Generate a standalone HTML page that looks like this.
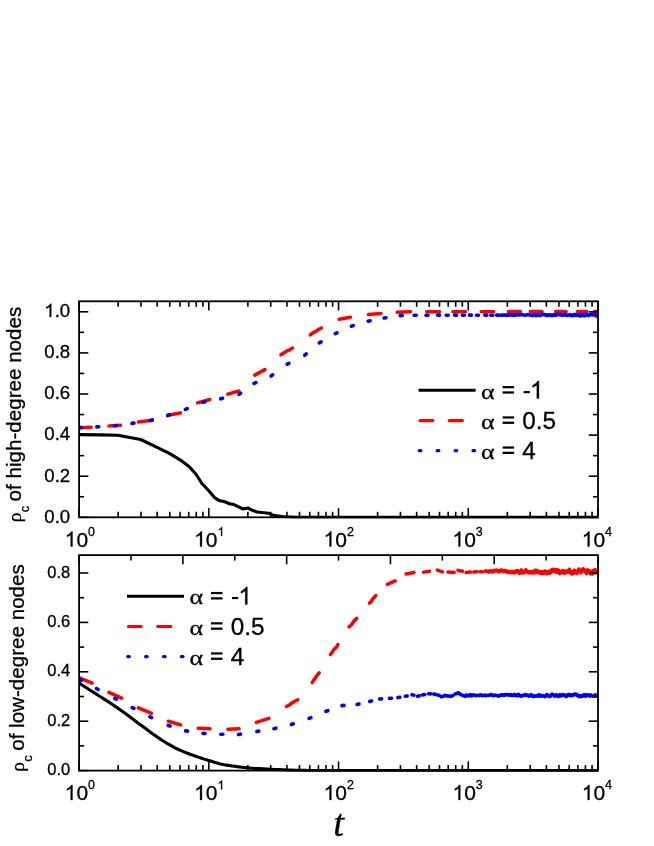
<!DOCTYPE html>
<html><head><meta charset="utf-8"><title>chart</title>
<style>html,body{margin:0;padding:0;background:#fff;}svg{display:block;will-change:transform;}text{fill:#000;stroke:#000;stroke-width:0.3px;}</style>
</head><body>
<svg width="654" height="846" viewBox="0 0 654 846">
<defs><clipPath id="c1"><rect x="79.1" y="301.3" width="518.9" height="217.19999999999993"/></clipPath><clipPath id="c2"><rect x="79.1" y="555.1" width="518.9" height="216.7"/></clipPath></defs>
<g clip-path="url(#c1)">
<polyline points="78,434.6 100,434.9 117.8,435.2 140.7,439.5 157.6,447.6 169.8,453.7 180.1,459.8 189.3,466.7 196.2,474.5 201.9,483.5 208.8,490.8 214.5,497.6 219.1,500.5 224.9,501.8 229.4,503.7 234,504.6 238.6,506.8 243.2,509 247.8,508 252.4,510.3 257,512 263.9,512.7 268.4,513.2 273,515.2 282,516.5 295,517.2 598,517.3" fill="none" stroke="#000" stroke-width="3.1" stroke-linejoin="round" />
<line x1="78.96" y1="427.67" x2="91.14" y2="427.23" stroke="#ff0000" stroke-width="3.5" stroke-linecap="round"/>
<line x1="108.96" y1="425.95" x2="120.54" y2="425.35" stroke="#ff0000" stroke-width="3.5" stroke-linecap="round"/>
<line x1="138.36" y1="421.89" x2="152.34" y2="420.31" stroke="#ff0000" stroke-width="3.5" stroke-linecap="round"/>
<line x1="167.65" y1="415.24" x2="180.45" y2="413.06" stroke="#ff0000" stroke-width="3.5" stroke-linecap="round"/>
<line x1="197.53" y1="402.85" x2="209.87" y2="399.45" stroke="#ff0000" stroke-width="3.5" stroke-linecap="round"/>
<line x1="227.83" y1="394.13" x2="238.87" y2="390.97" stroke="#ff0000" stroke-width="3.5" stroke-linecap="round"/>
<line x1="254.84" y1="375.14" x2="264.86" y2="369.66" stroke="#ff0000" stroke-width="3.5" stroke-linecap="round"/>
<polyline points="280.93,354.72 283.74,352.92 286.54,351.13 289.65,349.86 292.47,348.08" fill="none" stroke="#ff0000" stroke-width="3.5" stroke-linecap="round" stroke-linejoin="round"/>
<polyline points="310.32,334.89 312.9,332.82 315.92,331.43 318.63,329.55 321.48,327.91" fill="none" stroke="#ff0000" stroke-width="3.5" stroke-linecap="round" stroke-linejoin="round"/>
<line x1="339.15" y1="319.32" x2="350.45" y2="317.18" stroke="#ff0000" stroke-width="3.5" stroke-linecap="round"/>
<line x1="368.56" y1="314.51" x2="381.04" y2="313.39" stroke="#ff0000" stroke-width="3.5" stroke-linecap="round"/>
<line x1="397.16" y1="312.27" x2="410.54" y2="311.83" stroke="#ff0000" stroke-width="3.5" stroke-linecap="round"/>
<line x1="426.76" y1="311.8" x2="439.54" y2="311.8" stroke="#ff0000" stroke-width="3.5" stroke-linecap="round"/>
<line x1="452.86" y1="311.8" x2="465.54" y2="311.8" stroke="#ff0000" stroke-width="3.5" stroke-linecap="round"/>
<line x1="481.26" y1="311.7" x2="493.74" y2="311.7" stroke="#ff0000" stroke-width="3.5" stroke-linecap="round"/>
<line x1="508.57" y1="311.7" x2="520.13" y2="311.7" stroke="#ff0000" stroke-width="3.9" stroke-linecap="round"/>
<line x1="530.47" y1="311.7" x2="541.83" y2="311.7" stroke="#ff0000" stroke-width="3.9" stroke-linecap="round"/>
<line x1="555.87" y1="311.7" x2="565.93" y2="311.7" stroke="#ff0000" stroke-width="3.9" stroke-linecap="round"/>
<line x1="577.67" y1="311.7" x2="586.53" y2="311.7" stroke="#ff0000" stroke-width="3.9" stroke-linecap="round"/>
<line x1="594.47" y1="311.7" x2="598.93" y2="311.7" stroke="#ff0000" stroke-width="3.9" stroke-linecap="round"/>
<line x1="79.4" y1="427.65" x2="81.4" y2="427.55" stroke="#0000ff" stroke-width="3.6" stroke-linecap="round"/>
<line x1="96.8" y1="426.87" x2="98.8" y2="426.73" stroke="#0000ff" stroke-width="3.6" stroke-linecap="round"/>
<line x1="114.41" y1="425.74" x2="116.39" y2="425.46" stroke="#0000ff" stroke-width="3.6" stroke-linecap="round"/>
<line x1="132.01" y1="423.36" x2="133.99" y2="423.04" stroke="#0000ff" stroke-width="3.6" stroke-linecap="round"/>
<line x1="150.34" y1="420.48" x2="152.26" y2="419.92" stroke="#0000ff" stroke-width="3.6" stroke-linecap="round"/>
<line x1="167.76" y1="415.53" x2="169.64" y2="414.87" stroke="#0000ff" stroke-width="3.6" stroke-linecap="round"/>
<line x1="185.37" y1="409.36" x2="187.23" y2="408.64" stroke="#0000ff" stroke-width="3.6" stroke-linecap="round"/>
<line x1="202.92" y1="402.29" x2="204.88" y2="401.91" stroke="#0000ff" stroke-width="3.6" stroke-linecap="round"/>
<line x1="220.63" y1="398.86" x2="222.57" y2="398.34" stroke="#0000ff" stroke-width="3.6" stroke-linecap="round"/>
<line x1="238.98" y1="394.38" x2="240.62" y2="393.22" stroke="#0000ff" stroke-width="3.6" stroke-linecap="round"/>
<line x1="254.09" y1="383.41" x2="255.91" y2="382.59" stroke="#0000ff" stroke-width="3.6" stroke-linecap="round"/>
<line x1="271.09" y1="375.98" x2="272.71" y2="374.82" stroke="#0000ff" stroke-width="3.6" stroke-linecap="round"/>
<line x1="287.11" y1="364.27" x2="288.89" y2="363.33" stroke="#0000ff" stroke-width="3.6" stroke-linecap="round"/>
<line x1="304.73" y1="355.24" x2="306.27" y2="353.96" stroke="#0000ff" stroke-width="3.6" stroke-linecap="round"/>
<line x1="319.33" y1="342.9" x2="321.07" y2="341.9" stroke="#0000ff" stroke-width="3.6" stroke-linecap="round"/>
<line x1="335.19" y1="333.61" x2="337.01" y2="332.79" stroke="#0000ff" stroke-width="3.6" stroke-linecap="round"/>
<line x1="351.34" y1="326.18" x2="353.26" y2="325.62" stroke="#0000ff" stroke-width="3.6" stroke-linecap="round"/>
<line x1="368.12" y1="321.19" x2="370.08" y2="320.81" stroke="#0000ff" stroke-width="3.6" stroke-linecap="round"/>
<line x1="384.01" y1="318.04" x2="385.99" y2="317.76" stroke="#0000ff" stroke-width="3.6" stroke-linecap="round"/>
<line x1="400.3" y1="315.63" x2="402.3" y2="315.57" stroke="#0000ff" stroke-width="3.6" stroke-linecap="round"/>
<line x1="414.2" y1="315.2" x2="416.2" y2="315.2" stroke="#0000ff" stroke-width="3.6" stroke-linecap="round"/>
<line x1="426" y1="315.21" x2="428" y2="315.19" stroke="#0000ff" stroke-width="3.6" stroke-linecap="round"/>
<line x1="437.5" y1="315.09" x2="439.5" y2="315.11" stroke="#0000ff" stroke-width="3.6" stroke-linecap="round"/>
<line x1="446.2" y1="315.21" x2="448.2" y2="315.19" stroke="#0000ff" stroke-width="3.6" stroke-linecap="round"/>
<line x1="454.6" y1="315.09" x2="456.6" y2="315.11" stroke="#0000ff" stroke-width="3.6" stroke-linecap="round"/>
<line x1="462.4" y1="315.21" x2="464.4" y2="315.19" stroke="#0000ff" stroke-width="3.6" stroke-linecap="round"/>
<line x1="469.4" y1="315.09" x2="471.4" y2="315.11" stroke="#0000ff" stroke-width="3.6" stroke-linecap="round"/>
<line x1="476.5" y1="315.21" x2="478.5" y2="315.19" stroke="#0000ff" stroke-width="3.6" stroke-linecap="round"/>
<line x1="484.8" y1="315.08" x2="486.8" y2="315.12" stroke="#0000ff" stroke-width="3.6" stroke-linecap="round"/>
<line x1="490.8" y1="315.22" x2="492.8" y2="315.18" stroke="#0000ff" stroke-width="3.6" stroke-linecap="round"/>
<line x1="496.5" y1="315.08" x2="498.5" y2="315.12" stroke="#0000ff" stroke-width="3.6" stroke-linecap="round"/>
<line x1="500.5" y1="315.23" x2="502.5" y2="315.17" stroke="#0000ff" stroke-width="3.6" stroke-linecap="round"/>
<line x1="504" y1="315.07" x2="506" y2="315.13" stroke="#0000ff" stroke-width="3.6" stroke-linecap="round"/>
<line x1="507" y1="315.27" x2="509" y2="315.13" stroke="#0000ff" stroke-width="3.6" stroke-linecap="round"/>
<line x1="510" y1="314.92" x2="512" y2="315.08" stroke="#0000ff" stroke-width="3.6" stroke-linecap="round"/>
<line x1="512.5" y1="315.12" x2="514.5" y2="315.28" stroke="#0000ff" stroke-width="3.6" stroke-linecap="round"/>
<polyline points="514,314.73 514.25,314.69 514.5,314.76 514.75,314.78 515,315.12 515.25,315.27 515.5,315.04 515.75,315.15 516,314.71 516.25,315.01 516.5,314.86 516.75,314.97 517,314.79 517.25,314.43 517.5,314.53 517.75,314.79 518,314.47 518.25,314.84 518.5,314.73 518.75,314.73 519,314.68 519.25,315.08 519.5,314.58 519.75,314.57 520,314.58 520.25,314.84 520.5,314.31 520.75,314.55 521,314.62 521.25,314.85 521.5,314.81 521.75,314.85 522,314.45 522.25,314.57 522.5,314.59 522.75,315.03 523,315.16 523.25,314.68 523.5,314.74 523.75,314.79 524,314.85 524.25,315.12 524.5,315.3 524.75,315.16 525,315.05 525.25,315.36 525.5,315.26 525.75,315.25 526,315.35 526.25,314.98 526.5,314.7 526.75,314.7 527,314.75 527.25,314.31 527.5,314.95 527.75,314.89 528,314.98 528.25,314.94 528.5,314.65 528.75,314.71 529,314.58 529.25,315.08 529.5,314.76 529.75,314.85 530,314.98 530.25,314.97 530.5,315.17 530.75,315.04 531,315.09 531.25,315.28 531.5,315.28 531.75,315.48 532,315.16 532.25,315.72 532.5,315.42 532.75,314.96 533,314.97 533.25,315.02 533.5,315.02 533.75,314.79 534,315.31 534.25,315.37 534.5,314.92 534.75,314.91 535,314.62 535.25,314.74 535.5,315.09 535.75,315.2 536,315.8 536.25,315.36 536.5,315.25 536.75,315.88 537,315.31 537.25,314.72 537.5,314.78 537.75,314.16 538,314.49 538.25,314.93 538.5,315.01 538.75,315.1 539,314.98 539.25,315.27 539.5,315.22 539.75,315.73 540,315.43 540.25,315.49 540.5,314.93 540.75,314.68 541,315.07 541.25,315.19 541.5,315.06 541.75,314.98 542,314.95 542.25,314.84 542.5,314.35 542.75,314.59 543,314.44 543.25,314.15 543.5,314.14 543.75,314.35 544,314.32 544.25,314.7 544.5,314.94 544.75,314.51 545,315 545.25,315.11 545.5,315.14 545.75,314.65 546,314.53 546.25,314.58 546.5,314.67 546.75,314.83 547,315.38 547.25,315.77 547.5,315.8 547.75,315.45 548,315.5 548.25,315.45 548.5,314.58 548.75,314.92 549,315.02 549.25,314.86 549.5,314.88 549.75,314.73 550,314.58 550.25,315.28 550.5,314.96 550.75,315.45 551,315.62 551.25,315.08 551.5,315.11 551.75,315.65 552,315.45 552.25,314.93 552.5,314.89 552.75,314.87 553,315.52 553.25,315.34 553.5,314.61 553.75,315.21 554,315.33 554.25,315.03 554.5,314.77 554.75,315.03 555,314.67 555.25,314.61 555.5,315.59 555.75,315.25 556,315.03 556.25,315.29 556.5,314.62 556.75,314.91 557,314.75 557.25,314.1 557.5,314.13 557.75,314.17 558,314.12 558.25,314.47 558.5,314.13 558.75,314.29 559,314 559.25,314.84 559.5,314.31 559.75,314.47 560,314.65 560.25,315.01 560.5,314.52 560.75,315.12 561,314.83 561.25,315.03 561.5,315.18 561.75,314.78 562,315.27 562.25,314.97 562.5,314.72 562.75,315.47 563,314.71 563.25,314.96 563.5,315.18 563.75,314.99 564,314.72 564.25,314.89 564.5,314.89 564.75,315.09 565,314.33 565.25,314.82 565.5,314.52 565.75,314.63 566,315.27 566.25,315.08 566.5,315.22 566.75,315.47 567,315.64 567.25,315.09 567.5,315.23 567.75,315.06 568,315.02 568.25,315.19 568.5,314.92 568.75,314.98 569,314.87 569.25,315.33 569.5,315 569.75,315.16 570,315.22 570.25,314.5 570.5,314.97 570.75,315.6 571,315.67 571.25,315.03 571.5,315.1 571.75,315.48 572,315.03 572.25,315.19 572.5,314.96 572.75,315.62 573,315.73 573.25,315.85 573.5,314.92 573.75,315.43 574,315.19 574.25,314.4 574.5,315.13 574.75,315.16 575,314.3 575.25,315.25 575.5,314.72 575.75,314.96 576,315.67 576.25,315.56 576.5,314.77 576.75,315.09 577,315.17 577.25,314.94 577.5,314.75 577.75,314.88 578,315.36 578.25,314.55 578.5,315.3 578.75,315.3 579,314.93 579.25,315.43 579.5,315.86 579.75,315.73 580,315.14 580.25,316.22 580.5,315.92 580.75,316.1 581,314.98 581.25,315.17 581.5,314.82 581.75,315.59 582,314.78 582.25,314.42 582.5,314.64 582.75,315.18 583,315.12 583.25,314.6 583.5,314.73 583.75,316 584,315.82 584.25,316.15 584.5,315.39 584.75,315.18 585,315.67 585.25,314.97 585.5,314.17 585.75,315.01 586,314.51 586.25,314.76 586.5,313.93 586.75,315.05 587,314.16 587.25,315.3 587.5,314.83 587.75,314.7 588,315.06 588.25,315.68 588.5,314.97 588.75,314.93 589,315.54 589.25,315.19 589.5,314.92 589.75,314.78 590,314.37 590.25,314.31 590.5,314.24 590.75,314.13 591,314.76 591.25,314.23 591.5,314.64 591.75,314.36 592,314.72 592.25,314.36 592.5,314.68 592.75,314.27 593,315.07 593.25,314.62 593.5,313.93 593.75,314.17 594,314.74 594.25,313.69 594.5,314.87 594.75,314.61 595,314.98 595.25,315.69 595.5,315.22 595.75,315.4 596,315.67 596.25,316.12 596.5,315.28 596.75,316 597,315.86 597.25,315.77 597.5,315.41 597.75,315.26 598,314.76 598.25,314.78 598.5,314.63 598.75,315.54 599,314.88 599.25,314.84 599.5,314.86 599.75,316.07 600,316.24" fill="none" stroke="#0000ff" stroke-width="3.2" stroke-linejoin="round" />
</g>
<g clip-path="url(#c2)">
<polyline points="78,682.4 80.18,683.79 83.19,685.71 86.76,687.99 90.61,690.45 94.45,692.91 98,695.2 101.28,697.3 104.5,699.34 107.72,701.39 110.98,703.5 114.32,705.72 117.8,708.1 121.51,710.74 125.43,713.61 129.43,716.59 133.4,719.56 137.19,722.4 140.7,725 143.92,727.37 146.95,729.61 149.82,731.73 152.54,733.72 155.12,735.58 157.6,737.3 159.92,738.86 162.07,740.26 164.09,741.52 166.02,742.7 167.91,743.81 169.8,744.9 171.62,745.93 173.31,746.87 174.96,747.76 176.65,748.61 178.47,749.48 180.5,750.4 182.81,751.38 185.35,752.4 188.02,753.44 190.71,754.45 193.34,755.42 195.8,756.3 198.07,757.09 200.24,757.81 202.33,758.48 204.4,759.12 206.47,759.75 208.6,760.4 210.75,761.07 212.89,761.74 215.04,762.41 217.23,763.05 219.47,763.65 221.8,764.2 224.23,764.69 226.74,765.13 229.32,765.54 231.92,765.91 234.53,766.26 237.1,766.6 239.57,766.92 241.93,767.2 244.29,767.47 246.76,767.72 249.43,767.96 252.4,768.2 255.72,768.44 259.3,768.67 263.09,768.9 267.02,769.11 271.01,769.32 275,769.5 278.97,769.67 282.97,769.82 287.04,769.96 291.21,770.09 295.52,770.2 300,770.3 305.06,770.38 310.74,770.45 316.56,770.5 322.04,770.54 326.68,770.57 330,770.6 598,770.6" fill="none" stroke="#000" stroke-width="3.1" stroke-linejoin="round" />
<line x1="78.89" y1="677.66" x2="92.11" y2="683.04" stroke="#ff0000" stroke-width="3.5" stroke-linecap="round"/>
<line x1="108.88" y1="692.4" x2="121.72" y2="698.2" stroke="#ff0000" stroke-width="3.5" stroke-linecap="round"/>
<line x1="138.38" y1="707.78" x2="151.52" y2="713.42" stroke="#ff0000" stroke-width="3.5" stroke-linecap="round"/>
<line x1="168.42" y1="721.27" x2="180.68" y2="724.93" stroke="#ff0000" stroke-width="3.5" stroke-linecap="round"/>
<line x1="198.26" y1="728.24" x2="210.04" y2="728.76" stroke="#ff0000" stroke-width="3.5" stroke-linecap="round"/>
<line x1="227.96" y1="729.36" x2="239.14" y2="728.84" stroke="#ff0000" stroke-width="3.5" stroke-linecap="round"/>
<line x1="256.41" y1="722.4" x2="268.89" y2="718.3" stroke="#ff0000" stroke-width="3.5" stroke-linecap="round"/>
<polyline points="286.43,706.51 289.38,704.98 292.04,702.96 294.88,701.25 297.87,699.79" fill="none" stroke="#ff0000" stroke-width="3.5" stroke-linecap="round" stroke-linejoin="round"/>
<polyline points="312.17,682.62 313.77,680.06 315.67,677.73 317.19,675.11 319.23,672.88" fill="none" stroke="#ff0000" stroke-width="3.5" stroke-linecap="round" stroke-linejoin="round"/>
<polyline points="330.47,654.53 332.29,651.98 334.01,649.36 336.43,647.26 337.93,644.47" fill="none" stroke="#ff0000" stroke-width="3.5" stroke-linecap="round" stroke-linejoin="round"/>
<polyline points="348.95,626.79 351.25,625.02 352.88,622.63 354.61,620.33 356.75,618.41" fill="none" stroke="#ff0000" stroke-width="3.5" stroke-linecap="round" stroke-linejoin="round"/>
<polyline points="369.42,603.16 371.37,601.55 372.45,599.23 374.08,597.35 375.78,595.54" fill="none" stroke="#ff0000" stroke-width="3.5" stroke-linecap="round" stroke-linejoin="round"/>
<line x1="387.28" y1="584.42" x2="395.22" y2="580.98" stroke="#ff0000" stroke-width="3.5" stroke-linecap="round"/>
<line x1="406.05" y1="573.93" x2="413.95" y2="572.47" stroke="#ff0000" stroke-width="3.5" stroke-linecap="round"/>
<line x1="423.55" y1="572.14" x2="429.55" y2="571.16" stroke="#ff0000" stroke-width="3.5" stroke-linecap="round"/>
<line x1="437.4" y1="570.13" x2="442.4" y2="571.97" stroke="#ff0000" stroke-width="3.5" stroke-linecap="round"/>
<line x1="447.96" y1="572.06" x2="454.24" y2="572.44" stroke="#ff0000" stroke-width="3.5" stroke-linecap="round"/>
<line x1="457.95" y1="570.37" x2="462.55" y2="571.23" stroke="#ff0000" stroke-width="3.5" stroke-linecap="round"/>
<line x1="466.26" y1="572.51" x2="470.74" y2="572.09" stroke="#ff0000" stroke-width="3.5" stroke-linecap="round"/>
<line x1="473.86" y1="572.09" x2="477.24" y2="571.71" stroke="#ff0000" stroke-width="3.5" stroke-linecap="round"/>
<line x1="480.16" y1="571.78" x2="482.74" y2="571.72" stroke="#ff0000" stroke-width="3.5" stroke-linecap="round"/>
<polyline points="484.5,570.1 484.75,570.23 485,570.48 485.25,571.24 485.5,570.88 485.75,571.35 486,570.75 486.25,570.82 486.5,571.1 486.75,571.64 487,571.71 487.25,571.73 487.5,571.28 487.75,571.57 488,571.51 488.25,571.52 488.5,571.09 488.75,572.1 489,571.21 489.25,572.23 489.5,572.15 489.75,570.85 490,571.29 490.25,571.62 490.5,571.69 490.75,570.92 491,570.67 491.25,570.66 491.5,571.77 491.75,570.93 492,571.57 492.25,571.08 492.5,571.64 492.75,572.16 493,570.85 493.25,571.57 493.5,570.88 493.75,571.2 494,570.82 494.25,570.16 494.5,571.17 494.75,570.7 495,570.18 495.25,570.26 495.5,571.05 495.75,571.01 496,570.76 496.25,570.45 496.5,570.66 496.75,570.53 497,571.22 497.25,569.96 497.5,571.08 497.75,571.32 498,570.4 498.25,571.76 498.5,571.58 498.75,571.96 499,571.05 499.25,571.08 499.5,570.95 499.75,571.69 500,570.88 500.25,570.4 500.5,570.44 500.75,570.2 501,569.84 501.25,569.91 501.5,571.04 501.75,570.17 502,571.18 502.25,570.12 502.5,570.22 502.75,570.74 503,570.38 503.25,570.81 503.5,571.85 503.75,571.76 504,571.63 504.25,571.31 504.5,571.73 504.75,571.73 505,571.06 505.25,571.33 505.5,570.26 505.75,571.51 506,571.22 506.25,571.92 506.5,571.91 506.75,571.43 507,571.05 507.25,572.51 507.5,571.13 507.75,571.68 508,571.44 508.25,571.33 508.5,572.08 508.75,572.52 509,571.38 509.25,572.18 509.5,571.7 509.75,572.25 510,572.02 510.25,571.63 510.5,571.59 510.75,571.62 511,572.8 511.25,572.03 511.5,571.5 511.75,572.71 512,572.89 512.25,571.94 512.5,571.42 512.75,571.55 513,571.39 513.25,571.86 513.5,571.42 513.75,571.75 514,571.87 514.25,572.54 514.5,573.21 514.75,573.01 515,572.39 515.25,572.25 515.5,572.22 515.75,571.65 516,571.31 516.25,570.58 516.5,570.9 516.75,572.19 517,570.57 517.25,571.25 517.5,571.45 517.75,571.86 518,570.61 518.25,570.75 518.5,570.93 518.75,571.57 519,572.06 519.25,573.42 519.5,573.47 519.75,573.59 520,571.74 520.25,571.36 520.5,572.19 520.75,572.06 521,570.82 521.25,570.85 521.5,569.74 521.75,570.75 522,572.14 522.25,572.3 522.5,572.67 522.75,573.11 523,571.69 523.25,571.38 523.5,571.43 523.75,572.13 524,572.41 524.25,572.9 524.5,572.44 524.75,572.18 525,572.16 525.25,571.16 525.5,570.98 525.75,569.6 526,570.96 526.25,569.85 526.5,571.57 526.75,571.44 527,571.22 527.25,571.32 527.5,571.91 527.75,572.82 528,572.96 528.25,571.75 528.5,571.69 528.75,572.7 529,572.86 529.25,572.45 529.5,572.07 529.75,572.77 530,571.34 530.25,571.8 530.5,571.99 530.75,572.98 531,572.28 531.25,572.84 531.5,572 531.75,571.54 532,571.64 532.25,573.27 532.5,572.72 532.75,571.85 533,571.25 533.25,572.37 533.5,572.82 533.75,572.29 534,571.95 534.25,572.83 534.5,573.16 534.75,571.18 535,570.29 535.25,570.56 535.5,570.46 535.75,570.97 536,569.96 536.25,571.54 536.5,571.66 536.75,571.37 537,570.88 537.25,572.76 537.5,571.23 537.75,572.4 538,571.02 538.25,570.98 538.5,572.23 538.75,571.13 539,572.69 539.25,571.72 539.5,571.18 539.75,571.49 540,572.17 540.25,572.93 540.5,573.67 540.75,571.75 541,572.33 541.25,571.87 541.5,573.69 541.75,571.66 542,571.44 542.25,571.46 542.5,572.27 542.75,573.52 543,573.5 543.25,573.15 543.5,573.81 543.75,573.65 544,572.11 544.25,571.62 544.5,573.31 544.75,572.67 545,570.76 545.25,572.27 545.5,571.6 545.75,571.73 546,571.83 546.25,571.64 546.5,571.42 546.75,572.24 547,572.44 547.25,573.9 547.5,571.66 547.75,573.65 548,571.58 548.25,571.85 548.5,573 548.75,573 549,572.01 549.25,571.03 549.5,572.13 549.75,571.88 550,573.3 550.25,571.38 550.5,571.63 550.75,572.72 551,570.11 551.25,570.79 551.5,571.62 551.75,571.44 552,569.47 552.25,569.33 552.5,569.26 552.75,571.38 553,569.51 553.25,570.75 553.5,571.17 553.75,569.72 554,569.61 554.25,571.52 554.5,570.67 554.75,569.76 555,571 555.25,570 555.5,570.03 555.75,569.46 556,571.67 556.25,572.23 556.5,571.51 556.75,572.3 557,569.64 557.25,570.03 557.5,570.5 557.75,571.66 558,571.56 558.25,570.04 558.5,569.98 558.75,570.97 559,571.71 559.25,573.44 559.5,571.73 559.75,573.56 560,573.3 560.25,573.38 560.5,573.03 560.75,572.35 561,571.4 561.25,571.29 561.5,571.42 561.75,572.64 562,570.69 562.25,571.08 562.5,572.72 562.75,571.3 563,570.78 563.25,570.69 563.5,572.18 563.75,571.53 564,573.42 564.25,573.14 564.5,573.45 564.75,571.36 565,570.87 565.25,570.94 565.5,572.16 565.75,572.81 566,572.06 566.25,571.43 566.5,571.88 566.75,572.34 567,572.35 567.25,572.42 567.5,572.62 567.75,572.05 568,570.28 568.25,572.12 568.5,570.1 568.75,570.53 569,569.64 569.25,570.58 569.5,569.07 569.75,569.63 570,570.22 570.25,570.59 570.5,573.37 570.75,572.82 571,572.12 571.25,572.31 571.5,574.1 571.75,572.58 572,571.7 572.25,573.44 572.5,572.95 572.75,573.94 573,571.06 573.25,572.01 573.5,572.87 573.75,572.77 574,572.91 574.25,570.19 574.5,570.99 574.75,570.47 575,570.71 575.25,573.18 575.5,571.98 575.75,573.08 576,571.37 576.25,573 576.5,571.79 576.75,571.3 577,573.02 577.25,573.59 577.5,570.84 577.75,572.07 578,571.68 578.25,569.89 578.5,569.93 578.75,568.91 579,569.08 579.25,569.52 579.5,571.1 579.75,571.84 580,570.94 580.25,570.73 580.5,571.92 580.75,572.94 581,571.04 581.25,571.05 581.5,570.28 581.75,571.86 582,570.85 582.25,569.23 582.5,569.26 582.75,570.09 583,570.44 583.25,570.59 583.5,568.68 583.75,568.89 584,570.71 584.25,569.89 584.5,569.64 584.75,569.88 585,572.16 585.25,570.08 585.5,571.01 585.75,570.57 586,571.15 586.25,573.06 586.5,573.87 586.75,571.97 587,571.43 587.25,573 587.5,570.84 587.75,569.7 588,572.3 588.25,570.34 588.5,571.56 588.75,570.28 589,572.25 589.25,571.26 589.5,570.72 589.75,570.61 590,572.68 590.25,573.04 590.5,574.09 590.75,571.44 591,573.5 591.25,572.83 591.5,573.43 591.75,572.22 592,572.53 592.25,573.02 592.5,574.01 592.75,570.72 593,571.72 593.25,572.65 593.5,573.2 593.75,570.43 594,570.08 594.25,572.86 594.5,572.89 594.75,571.09 595,569.56 595.25,572.7 595.5,570.86 595.75,572.78 596,571.86 596.25,572.65 596.5,570.3 596.75,572.59 597,570.71 597.25,571.54 597.5,573.32 597.75,573.42 598,571.18 598.25,571.33 598.5,572.03 598.75,572.52 599,572.12 599.25,571.24 599.5,571.74 599.75,573.5 600,574.08" fill="none" stroke="#ff0000" stroke-width="3.2" stroke-linejoin="round" />
<line x1="79.62" y1="679.42" x2="81.38" y2="680.38" stroke="#0000ff" stroke-width="3.6" stroke-linecap="round"/>
<line x1="96.42" y1="688.53" x2="98.18" y2="689.47" stroke="#0000ff" stroke-width="3.6" stroke-linecap="round"/>
<line x1="114.82" y1="698.33" x2="116.58" y2="699.27" stroke="#0000ff" stroke-width="3.6" stroke-linecap="round"/>
<line x1="132.21" y1="707.54" x2="133.99" y2="708.46" stroke="#0000ff" stroke-width="3.6" stroke-linecap="round"/>
<line x1="149.89" y1="716.78" x2="151.71" y2="717.62" stroke="#0000ff" stroke-width="3.6" stroke-linecap="round"/>
<line x1="168.24" y1="725.41" x2="170.16" y2="725.99" stroke="#0000ff" stroke-width="3.6" stroke-linecap="round"/>
<line x1="185.61" y1="730.86" x2="187.59" y2="731.14" stroke="#0000ff" stroke-width="3.6" stroke-linecap="round"/>
<line x1="203" y1="733.35" x2="205" y2="733.45" stroke="#0000ff" stroke-width="3.6" stroke-linecap="round"/>
<line x1="220.8" y1="734.3" x2="222.8" y2="734.3" stroke="#0000ff" stroke-width="3.6" stroke-linecap="round"/>
<line x1="238.51" y1="734.46" x2="240.49" y2="734.14" stroke="#0000ff" stroke-width="3.6" stroke-linecap="round"/>
<line x1="256.81" y1="731.47" x2="258.79" y2="731.13" stroke="#0000ff" stroke-width="3.6" stroke-linecap="round"/>
<line x1="273.93" y1="728.64" x2="275.87" y2="728.16" stroke="#0000ff" stroke-width="3.6" stroke-linecap="round"/>
<line x1="291.35" y1="724.43" x2="293.25" y2="723.77" stroke="#0000ff" stroke-width="3.6" stroke-linecap="round"/>
<line x1="309.08" y1="718.38" x2="310.92" y2="717.62" stroke="#0000ff" stroke-width="3.6" stroke-linecap="round"/>
<line x1="325.95" y1="711.32" x2="327.85" y2="710.68" stroke="#0000ff" stroke-width="3.6" stroke-linecap="round"/>
<line x1="342" y1="705.59" x2="344" y2="705.41" stroke="#0000ff" stroke-width="3.6" stroke-linecap="round"/>
<line x1="357.03" y1="704.43" x2="358.97" y2="703.97" stroke="#0000ff" stroke-width="3.6" stroke-linecap="round"/>
<line x1="369.63" y1="701.42" x2="371.57" y2="700.98" stroke="#0000ff" stroke-width="3.6" stroke-linecap="round"/>
<line x1="379.6" y1="698.96" x2="381.6" y2="698.84" stroke="#0000ff" stroke-width="3.6" stroke-linecap="round"/>
<line x1="389.51" y1="698.41" x2="391.49" y2="698.19" stroke="#0000ff" stroke-width="3.6" stroke-linecap="round"/>
<line x1="397.92" y1="697.58" x2="399.88" y2="697.22" stroke="#0000ff" stroke-width="3.6" stroke-linecap="round"/>
<line x1="405.21" y1="696.26" x2="407.19" y2="695.94" stroke="#0000ff" stroke-width="3.6" stroke-linecap="round"/>
<line x1="412.02" y1="694.8" x2="413.98" y2="695.2" stroke="#0000ff" stroke-width="3.6" stroke-linecap="round"/>
<line x1="417.53" y1="696.36" x2="419.47" y2="695.84" stroke="#0000ff" stroke-width="3.6" stroke-linecap="round"/>
<line x1="422.71" y1="694.85" x2="424.69" y2="694.55" stroke="#0000ff" stroke-width="3.6" stroke-linecap="round"/>
<line x1="428.5" y1="693.7" x2="430.5" y2="693.9" stroke="#0000ff" stroke-width="3.6" stroke-linecap="round"/>
<line x1="433.73" y1="694.06" x2="435.67" y2="694.54" stroke="#0000ff" stroke-width="3.6" stroke-linecap="round"/>
<line x1="437.35" y1="694.9" x2="439.25" y2="695.5" stroke="#0000ff" stroke-width="3.6" stroke-linecap="round"/>
<line x1="441.43" y1="696.74" x2="443.37" y2="696.26" stroke="#0000ff" stroke-width="3.6" stroke-linecap="round"/>
<line x1="445.02" y1="695.42" x2="446.98" y2="695.78" stroke="#0000ff" stroke-width="3.6" stroke-linecap="round"/>
<line x1="447.8" y1="696.13" x2="449.8" y2="696.07" stroke="#0000ff" stroke-width="3.6" stroke-linecap="round"/>
<line x1="451.12" y1="696.48" x2="452.88" y2="695.52" stroke="#0000ff" stroke-width="3.6" stroke-linecap="round"/>
<line x1="455.02" y1="694" x2="456.98" y2="693.6" stroke="#0000ff" stroke-width="3.6" stroke-linecap="round"/>
<line x1="458.17" y1="692.65" x2="459.83" y2="693.75" stroke="#0000ff" stroke-width="3.6" stroke-linecap="round"/>
<line x1="460.76" y1="694.65" x2="462.64" y2="695.35" stroke="#0000ff" stroke-width="3.6" stroke-linecap="round"/>
<line x1="463.46" y1="695.65" x2="465.34" y2="696.35" stroke="#0000ff" stroke-width="3.6" stroke-linecap="round"/>
<polyline points="465.5,694.6 465.75,694.9 466,694.72 466.25,695.34 466.5,695.28 466.75,695.31 467,695.65 467.25,695.47 467.5,695.35 467.75,695.76 468,695.41 468.25,695.95 468.5,695.65 468.75,695.9 469,696.01 469.25,695.55 469.5,695.34 469.75,694.85 470,694.44 470.25,694.36 470.5,694.48 470.75,694.97 471,695.13 471.25,695.49 471.5,696 471.75,695.68 472,695.76 472.25,695.91 472.5,695.27 472.75,694.98 473,694.95 473.25,694.59 473.5,694.68 473.75,694.64 474,695.01 474.25,695.19 474.5,695.12 474.75,695.55 475,695.54 475.25,695.32 475.5,695.85 475.75,695.36 476,695.28 476.25,695.22 476.5,695.58 476.75,695.74 477,695.69 477.25,695.45 477.5,695.38 477.75,695.24 478,695.7 478.25,695.65 478.5,695.48 478.75,695.61 479,695.35 479.25,695.58 479.5,695.33 479.75,694.91 480,695.37 480.25,694.78 480.5,695.16 480.75,695.11 481,695.03 481.25,694.94 481.5,695.47 481.75,694.93 482,695.37 482.25,695.71 482.5,695.19 482.75,695.29 483,695.61 483.25,695.54 483.5,695.6 483.75,695.67 484,695.14 484.25,695.18 484.5,695.14 484.75,694.94 485,695.6 485.25,695.59 485.5,695.63 485.75,695.19 486,695.89 486.25,695.85 486.5,695.63 486.75,695.78 487,695.49 487.25,695.23 487.5,695.06 487.75,695.11 488,694.95 488.25,695.18 488.5,695.5 488.75,695.45 489,695.57 489.25,695.46 489.5,695.11 489.75,695.29 490,695.08 490.25,695.2 490.5,694.83 490.75,694.48 491,694.7 491.25,694.98 491.5,694.52 491.75,695.25 492,694.8 492.25,695.22 492.5,695.35 492.75,695.8 493,695.94 493.25,695.74 493.5,695.35 493.75,695.75 494,695.26 494.25,695.17 494.5,695.7 494.75,695.4 495,695.36 495.25,695.24 495.5,695.4 495.75,694.93 496,695.23 496.25,695.22 496.5,695.53 496.75,695.39 497,695.83 497.25,695.86 497.5,695.7 497.75,695.62 498,695.97 498.25,695.52 498.5,696.23 498.75,695.58 499,695.49 499.25,695.54 499.5,696.17 499.75,695.55 500,695.25 500.25,695.03 500.5,694.96 500.75,695.49 501,695.4 501.25,695.36 501.5,695.29 501.75,694.59 502,694.96 502.25,694.72 502.5,695.14 502.75,695.21 503,695.39 503.25,694.78 503.5,695.6 503.75,695.71 504,695.74 504.25,694.92 504.5,694.88 504.75,694.65 505,694.43 505.25,695.06 505.5,694.98 505.75,694.82 506,695 506.25,694.84 506.5,694.53 506.75,694.37 507,694.37 507.25,694.98 507.5,694.55 507.75,694.76 508,694.99 508.25,694.73 508.5,695.03 508.75,695.07 509,695.42 509.25,694.99 509.5,694.8 509.75,695.26 510,694.72 510.25,695 510.5,694.8 510.75,694.34 511,694.84 511.25,695.01 511.5,695.45 511.75,695.13 512,695.49 512.25,695.35 512.5,695.06 512.75,695.71 513,695 513.25,695.72 513.5,695.1 513.75,694.88 514,694.93 514.25,695.28 514.5,695.3 514.75,694.19 515,694.56 515.25,694.58 515.5,695.02 515.75,694.65 516,695.2 516.25,695.29 516.5,695.93 516.75,695.41 517,695.99 517.25,695.16 517.5,694.86 517.75,695.11 518,694.72 518.25,694.25 518.5,694.82 518.75,694.44 519,695.41 519.25,695.59 519.5,695.93 519.75,695.93 520,695.69 520.25,695.74 520.5,695.75 520.75,696.27 521,695.47 521.25,696.3 521.5,695.43 521.75,695.58 522,695.56 522.25,696.1 522.5,695.58 522.75,695.36 523,695.82 523.25,695.12 523.5,695.25 523.75,695.15 524,695.18 524.25,695 524.5,694.76 524.75,694.41 525,694.46 525.25,694.43 525.5,695.35 525.75,695.35 526,695.58 526.25,695.06 526.5,695.33 526.75,695.65 527,695.4 527.25,694.86 527.5,695.17 527.75,695.59 528,694.9 528.25,694.97 528.5,695.3 528.75,695.98 529,696.37 529.25,695.81 529.5,695.88 529.75,695.88 530,695.71 530.25,695.58 530.5,694.83 530.75,694.71 531,694.39 531.25,695.26 531.5,695.17 531.75,694.77 532,696.03 532.25,695.38 532.5,695.89 532.75,696.62 533,696.43 533.25,696.41 533.5,696.14 533.75,695.94 534,696.48 534.25,695.91 534.5,696 534.75,696.13 535,695.62 535.25,695.91 535.5,696.25 535.75,696.08 536,695.85 536.25,696.01 536.5,695.85 536.75,695.53 537,696.09 537.25,695.89 537.5,696.28 537.75,696.39 538,695.65 538.25,695.55 538.5,695.47 538.75,694.87 539,694.51 539.25,695.1 539.5,695.49 539.75,695.68 540,695.94 540.25,696.45 540.5,696.48 540.75,696.5 541,696.19 541.25,695.86 541.5,696.01 541.75,695.17 542,695.38 542.25,695.72 542.5,695.67 542.75,695.71 543,695.46 543.25,695.87 543.5,696.1 543.75,696.41 544,696.18 544.25,696.49 544.5,696.78 544.75,695.87 545,696.42 545.25,696.55 545.5,696.08 545.75,696.11 546,696.45 546.25,694.99 546.5,695.26 546.75,694.51 547,695.1 547.25,695.31 547.5,694.96 547.75,694.7 548,695.56 548.25,695.78 548.5,696.18 548.75,695.99 549,696.17 549.25,696.45 549.5,696.14 549.75,696.07 550,696.78 550.25,695.89 550.5,696.41 550.75,695.79 551,695.88 551.25,694.69 551.5,695.41 551.75,694.4 552,693.99 552.25,694.32 552.5,694.59 552.75,694.23 553,694.87 553.25,694.96 553.5,695.35 553.75,694.97 554,694.99 554.25,695.12 554.5,695.96 554.75,696.37 555,695.94 555.25,695.53 555.5,696.11 555.75,695.34 556,694.83 556.25,694.47 556.5,695.12 556.75,695.12 557,695.02 557.25,695.08 557.5,695.54 557.75,695.44 558,696.66 558.25,696.01 558.5,696.33 558.75,696.37 559,696.1 559.25,695.36 559.5,694.87 559.75,695.04 560,694.47 560.25,695.52 560.5,695.1 560.75,696 561,695.48 561.25,695.81 561.5,695.72 561.75,695.85 562,695.31 562.25,694.76 562.5,695.4 562.75,694.55 563,694.35 563.25,694.43 563.5,694.76 563.75,694.84 564,695.29 564.25,695.48 564.5,695.19 564.75,695.98 565,695.96 565.25,695.04 565.5,696.28 565.75,696.58 566,696.57 566.25,695.77 566.5,696.65 566.75,696.16 567,695.01 567.25,694.66 567.5,695.65 567.75,695.05 568,694.46 568.25,694.26 568.5,694.34 568.75,694.49 569,695.26 569.25,694.69 569.5,694.43 569.75,695.5 570,695.43 570.25,694.68 570.5,695.8 570.75,695.5 571,695.8 571.25,695.64 571.5,695.9 571.75,695.68 572,695.66 572.25,694.67 572.5,695.31 572.75,695.06 573,695.31 573.25,694.78 573.5,695.27 573.75,694.67 574,694.15 574.25,694.06 574.5,693.93 574.75,694.48 575,693.93 575.25,694.58 575.5,694.18 575.75,694.71 576,694.73 576.25,694.78 576.5,695.24 576.75,694 577,695.19 577.25,694.64 577.5,694.78 577.75,695.03 578,695.56 578.25,695.25 578.5,695.69 578.75,696.79 579,695.69 579.25,696.51 579.5,696.44 579.75,695.44 580,696.16 580.25,696.15 580.5,696.44 580.75,695.53 581,696.53 581.25,695.92 581.5,695.99 581.75,696.7 582,695.51 582.25,696.56 582.5,696.36 582.75,695.7 583,696.15 583.25,695.05 583.5,694.9 583.75,694.77 584,695.11 584.25,694.42 584.5,695.01 584.75,695.3 585,695.78 585.25,696.41 585.5,695.7 585.75,696.41 586,695.53 586.25,695.37 586.5,694.68 586.75,694.76 587,695.31 587.25,694.83 587.5,695.15 587.75,694.64 588,694.82 588.25,694.99 588.5,695.56 588.75,695.67 589,695.92 589.25,694.82 589.5,695.92 589.75,696.22 590,695.74 590.25,695 590.5,695.36 590.75,694.82 591,694.97 591.25,695.96 591.5,695.36 591.75,695.36 592,695.56 592.25,695.87 592.5,695.62 592.75,695.89 593,696.15 593.25,696.44 593.5,696.36 593.75,696.45 594,695.6 594.25,696.16 594.5,695.67 594.75,696.02 595,694.9 595.25,695.02 595.5,694.8 595.75,695.97 596,696.21 596.25,695.81 596.5,695.37 596.75,696.09 597,696.09 597.25,695.86 597.5,695.52 597.75,695.74 598,696.05 598.25,695.95 598.5,696.06 598.75,696.14 599,696.24 599.25,694.43 599.5,694.9 599.75,693.83 600,693.94" fill="none" stroke="#0000ff" stroke-width="3.2" stroke-linejoin="round" />
</g>
<rect x="79.1" y="301.3" width="518.9" height="216" fill="none" stroke="#000" stroke-width="1.8"/>
<rect x="79.1" y="555.1" width="518.9" height="215.5" fill="none" stroke="#000" stroke-width="1.8"/>
<line x1="79.1" y1="517.3" x2="79.1" y2="508.1" stroke="#000" stroke-width="1.6" stroke-linecap="butt"/>
<line x1="118.15" y1="517.3" x2="118.15" y2="511.8" stroke="#000" stroke-width="1.6" stroke-linecap="butt"/>
<line x1="140.99" y1="517.3" x2="140.99" y2="511.8" stroke="#000" stroke-width="1.6" stroke-linecap="butt"/>
<line x1="157.2" y1="517.3" x2="157.2" y2="511.8" stroke="#000" stroke-width="1.6" stroke-linecap="butt"/>
<line x1="169.77" y1="517.3" x2="169.77" y2="511.8" stroke="#000" stroke-width="1.6" stroke-linecap="butt"/>
<line x1="180.05" y1="517.3" x2="180.05" y2="511.8" stroke="#000" stroke-width="1.6" stroke-linecap="butt"/>
<line x1="188.73" y1="517.3" x2="188.73" y2="511.8" stroke="#000" stroke-width="1.6" stroke-linecap="butt"/>
<line x1="196.25" y1="517.3" x2="196.25" y2="511.8" stroke="#000" stroke-width="1.6" stroke-linecap="butt"/>
<line x1="202.89" y1="517.3" x2="202.89" y2="511.8" stroke="#000" stroke-width="1.6" stroke-linecap="butt"/>
<line x1="208.82" y1="517.3" x2="208.82" y2="508.1" stroke="#000" stroke-width="1.6" stroke-linecap="butt"/>
<line x1="247.88" y1="517.3" x2="247.88" y2="511.8" stroke="#000" stroke-width="1.6" stroke-linecap="butt"/>
<line x1="270.72" y1="517.3" x2="270.72" y2="511.8" stroke="#000" stroke-width="1.6" stroke-linecap="butt"/>
<line x1="286.93" y1="517.3" x2="286.93" y2="511.8" stroke="#000" stroke-width="1.6" stroke-linecap="butt"/>
<line x1="299.5" y1="517.3" x2="299.5" y2="511.8" stroke="#000" stroke-width="1.6" stroke-linecap="butt"/>
<line x1="309.77" y1="517.3" x2="309.77" y2="511.8" stroke="#000" stroke-width="1.6" stroke-linecap="butt"/>
<line x1="318.46" y1="517.3" x2="318.46" y2="511.8" stroke="#000" stroke-width="1.6" stroke-linecap="butt"/>
<line x1="325.98" y1="517.3" x2="325.98" y2="511.8" stroke="#000" stroke-width="1.6" stroke-linecap="butt"/>
<line x1="332.61" y1="517.3" x2="332.61" y2="511.8" stroke="#000" stroke-width="1.6" stroke-linecap="butt"/>
<line x1="338.55" y1="517.3" x2="338.55" y2="508.1" stroke="#000" stroke-width="1.6" stroke-linecap="butt"/>
<line x1="377.6" y1="517.3" x2="377.6" y2="511.8" stroke="#000" stroke-width="1.6" stroke-linecap="butt"/>
<line x1="400.44" y1="517.3" x2="400.44" y2="511.8" stroke="#000" stroke-width="1.6" stroke-linecap="butt"/>
<line x1="416.65" y1="517.3" x2="416.65" y2="511.8" stroke="#000" stroke-width="1.6" stroke-linecap="butt"/>
<line x1="429.22" y1="517.3" x2="429.22" y2="511.8" stroke="#000" stroke-width="1.6" stroke-linecap="butt"/>
<line x1="439.5" y1="517.3" x2="439.5" y2="511.8" stroke="#000" stroke-width="1.6" stroke-linecap="butt"/>
<line x1="448.18" y1="517.3" x2="448.18" y2="511.8" stroke="#000" stroke-width="1.6" stroke-linecap="butt"/>
<line x1="455.7" y1="517.3" x2="455.7" y2="511.8" stroke="#000" stroke-width="1.6" stroke-linecap="butt"/>
<line x1="462.34" y1="517.3" x2="462.34" y2="511.8" stroke="#000" stroke-width="1.6" stroke-linecap="butt"/>
<line x1="468.27" y1="517.3" x2="468.27" y2="508.1" stroke="#000" stroke-width="1.6" stroke-linecap="butt"/>
<line x1="507.33" y1="517.3" x2="507.33" y2="511.8" stroke="#000" stroke-width="1.6" stroke-linecap="butt"/>
<line x1="530.17" y1="517.3" x2="530.17" y2="511.8" stroke="#000" stroke-width="1.6" stroke-linecap="butt"/>
<line x1="546.38" y1="517.3" x2="546.38" y2="511.8" stroke="#000" stroke-width="1.6" stroke-linecap="butt"/>
<line x1="558.95" y1="517.3" x2="558.95" y2="511.8" stroke="#000" stroke-width="1.6" stroke-linecap="butt"/>
<line x1="569.22" y1="517.3" x2="569.22" y2="511.8" stroke="#000" stroke-width="1.6" stroke-linecap="butt"/>
<line x1="577.91" y1="517.3" x2="577.91" y2="511.8" stroke="#000" stroke-width="1.6" stroke-linecap="butt"/>
<line x1="585.43" y1="517.3" x2="585.43" y2="511.8" stroke="#000" stroke-width="1.6" stroke-linecap="butt"/>
<line x1="592.06" y1="517.3" x2="592.06" y2="511.8" stroke="#000" stroke-width="1.6" stroke-linecap="butt"/>
<line x1="598" y1="517.3" x2="598" y2="508.1" stroke="#000" stroke-width="1.6" stroke-linecap="butt"/>
<line x1="79.1" y1="301.3" x2="79.1" y2="310.5" stroke="#000" stroke-width="1.6" stroke-linecap="butt"/>
<line x1="118.15" y1="301.3" x2="118.15" y2="306.8" stroke="#000" stroke-width="1.6" stroke-linecap="butt"/>
<line x1="140.99" y1="301.3" x2="140.99" y2="306.8" stroke="#000" stroke-width="1.6" stroke-linecap="butt"/>
<line x1="157.2" y1="301.3" x2="157.2" y2="306.8" stroke="#000" stroke-width="1.6" stroke-linecap="butt"/>
<line x1="169.77" y1="301.3" x2="169.77" y2="306.8" stroke="#000" stroke-width="1.6" stroke-linecap="butt"/>
<line x1="180.05" y1="301.3" x2="180.05" y2="306.8" stroke="#000" stroke-width="1.6" stroke-linecap="butt"/>
<line x1="188.73" y1="301.3" x2="188.73" y2="306.8" stroke="#000" stroke-width="1.6" stroke-linecap="butt"/>
<line x1="196.25" y1="301.3" x2="196.25" y2="306.8" stroke="#000" stroke-width="1.6" stroke-linecap="butt"/>
<line x1="202.89" y1="301.3" x2="202.89" y2="306.8" stroke="#000" stroke-width="1.6" stroke-linecap="butt"/>
<line x1="208.82" y1="301.3" x2="208.82" y2="310.5" stroke="#000" stroke-width="1.6" stroke-linecap="butt"/>
<line x1="247.88" y1="301.3" x2="247.88" y2="306.8" stroke="#000" stroke-width="1.6" stroke-linecap="butt"/>
<line x1="270.72" y1="301.3" x2="270.72" y2="306.8" stroke="#000" stroke-width="1.6" stroke-linecap="butt"/>
<line x1="286.93" y1="301.3" x2="286.93" y2="306.8" stroke="#000" stroke-width="1.6" stroke-linecap="butt"/>
<line x1="299.5" y1="301.3" x2="299.5" y2="306.8" stroke="#000" stroke-width="1.6" stroke-linecap="butt"/>
<line x1="309.77" y1="301.3" x2="309.77" y2="306.8" stroke="#000" stroke-width="1.6" stroke-linecap="butt"/>
<line x1="318.46" y1="301.3" x2="318.46" y2="306.8" stroke="#000" stroke-width="1.6" stroke-linecap="butt"/>
<line x1="325.98" y1="301.3" x2="325.98" y2="306.8" stroke="#000" stroke-width="1.6" stroke-linecap="butt"/>
<line x1="332.61" y1="301.3" x2="332.61" y2="306.8" stroke="#000" stroke-width="1.6" stroke-linecap="butt"/>
<line x1="338.55" y1="301.3" x2="338.55" y2="310.5" stroke="#000" stroke-width="1.6" stroke-linecap="butt"/>
<line x1="377.6" y1="301.3" x2="377.6" y2="306.8" stroke="#000" stroke-width="1.6" stroke-linecap="butt"/>
<line x1="400.44" y1="301.3" x2="400.44" y2="306.8" stroke="#000" stroke-width="1.6" stroke-linecap="butt"/>
<line x1="416.65" y1="301.3" x2="416.65" y2="306.8" stroke="#000" stroke-width="1.6" stroke-linecap="butt"/>
<line x1="429.22" y1="301.3" x2="429.22" y2="306.8" stroke="#000" stroke-width="1.6" stroke-linecap="butt"/>
<line x1="439.5" y1="301.3" x2="439.5" y2="306.8" stroke="#000" stroke-width="1.6" stroke-linecap="butt"/>
<line x1="448.18" y1="301.3" x2="448.18" y2="306.8" stroke="#000" stroke-width="1.6" stroke-linecap="butt"/>
<line x1="455.7" y1="301.3" x2="455.7" y2="306.8" stroke="#000" stroke-width="1.6" stroke-linecap="butt"/>
<line x1="462.34" y1="301.3" x2="462.34" y2="306.8" stroke="#000" stroke-width="1.6" stroke-linecap="butt"/>
<line x1="468.27" y1="301.3" x2="468.27" y2="310.5" stroke="#000" stroke-width="1.6" stroke-linecap="butt"/>
<line x1="507.33" y1="301.3" x2="507.33" y2="306.8" stroke="#000" stroke-width="1.6" stroke-linecap="butt"/>
<line x1="530.17" y1="301.3" x2="530.17" y2="306.8" stroke="#000" stroke-width="1.6" stroke-linecap="butt"/>
<line x1="546.38" y1="301.3" x2="546.38" y2="306.8" stroke="#000" stroke-width="1.6" stroke-linecap="butt"/>
<line x1="558.95" y1="301.3" x2="558.95" y2="306.8" stroke="#000" stroke-width="1.6" stroke-linecap="butt"/>
<line x1="569.22" y1="301.3" x2="569.22" y2="306.8" stroke="#000" stroke-width="1.6" stroke-linecap="butt"/>
<line x1="577.91" y1="301.3" x2="577.91" y2="306.8" stroke="#000" stroke-width="1.6" stroke-linecap="butt"/>
<line x1="585.43" y1="301.3" x2="585.43" y2="306.8" stroke="#000" stroke-width="1.6" stroke-linecap="butt"/>
<line x1="592.06" y1="301.3" x2="592.06" y2="306.8" stroke="#000" stroke-width="1.6" stroke-linecap="butt"/>
<line x1="598" y1="301.3" x2="598" y2="310.5" stroke="#000" stroke-width="1.6" stroke-linecap="butt"/>
<line x1="79.1" y1="770.6" x2="79.1" y2="761.4" stroke="#000" stroke-width="1.6" stroke-linecap="butt"/>
<line x1="118.15" y1="770.6" x2="118.15" y2="765.1" stroke="#000" stroke-width="1.6" stroke-linecap="butt"/>
<line x1="140.99" y1="770.6" x2="140.99" y2="765.1" stroke="#000" stroke-width="1.6" stroke-linecap="butt"/>
<line x1="157.2" y1="770.6" x2="157.2" y2="765.1" stroke="#000" stroke-width="1.6" stroke-linecap="butt"/>
<line x1="169.77" y1="770.6" x2="169.77" y2="765.1" stroke="#000" stroke-width="1.6" stroke-linecap="butt"/>
<line x1="180.05" y1="770.6" x2="180.05" y2="765.1" stroke="#000" stroke-width="1.6" stroke-linecap="butt"/>
<line x1="188.73" y1="770.6" x2="188.73" y2="765.1" stroke="#000" stroke-width="1.6" stroke-linecap="butt"/>
<line x1="196.25" y1="770.6" x2="196.25" y2="765.1" stroke="#000" stroke-width="1.6" stroke-linecap="butt"/>
<line x1="202.89" y1="770.6" x2="202.89" y2="765.1" stroke="#000" stroke-width="1.6" stroke-linecap="butt"/>
<line x1="208.82" y1="770.6" x2="208.82" y2="761.4" stroke="#000" stroke-width="1.6" stroke-linecap="butt"/>
<line x1="247.88" y1="770.6" x2="247.88" y2="765.1" stroke="#000" stroke-width="1.6" stroke-linecap="butt"/>
<line x1="270.72" y1="770.6" x2="270.72" y2="765.1" stroke="#000" stroke-width="1.6" stroke-linecap="butt"/>
<line x1="286.93" y1="770.6" x2="286.93" y2="765.1" stroke="#000" stroke-width="1.6" stroke-linecap="butt"/>
<line x1="299.5" y1="770.6" x2="299.5" y2="765.1" stroke="#000" stroke-width="1.6" stroke-linecap="butt"/>
<line x1="309.77" y1="770.6" x2="309.77" y2="765.1" stroke="#000" stroke-width="1.6" stroke-linecap="butt"/>
<line x1="318.46" y1="770.6" x2="318.46" y2="765.1" stroke="#000" stroke-width="1.6" stroke-linecap="butt"/>
<line x1="325.98" y1="770.6" x2="325.98" y2="765.1" stroke="#000" stroke-width="1.6" stroke-linecap="butt"/>
<line x1="332.61" y1="770.6" x2="332.61" y2="765.1" stroke="#000" stroke-width="1.6" stroke-linecap="butt"/>
<line x1="338.55" y1="770.6" x2="338.55" y2="761.4" stroke="#000" stroke-width="1.6" stroke-linecap="butt"/>
<line x1="377.6" y1="770.6" x2="377.6" y2="765.1" stroke="#000" stroke-width="1.6" stroke-linecap="butt"/>
<line x1="400.44" y1="770.6" x2="400.44" y2="765.1" stroke="#000" stroke-width="1.6" stroke-linecap="butt"/>
<line x1="416.65" y1="770.6" x2="416.65" y2="765.1" stroke="#000" stroke-width="1.6" stroke-linecap="butt"/>
<line x1="429.22" y1="770.6" x2="429.22" y2="765.1" stroke="#000" stroke-width="1.6" stroke-linecap="butt"/>
<line x1="439.5" y1="770.6" x2="439.5" y2="765.1" stroke="#000" stroke-width="1.6" stroke-linecap="butt"/>
<line x1="448.18" y1="770.6" x2="448.18" y2="765.1" stroke="#000" stroke-width="1.6" stroke-linecap="butt"/>
<line x1="455.7" y1="770.6" x2="455.7" y2="765.1" stroke="#000" stroke-width="1.6" stroke-linecap="butt"/>
<line x1="462.34" y1="770.6" x2="462.34" y2="765.1" stroke="#000" stroke-width="1.6" stroke-linecap="butt"/>
<line x1="468.27" y1="770.6" x2="468.27" y2="761.4" stroke="#000" stroke-width="1.6" stroke-linecap="butt"/>
<line x1="507.33" y1="770.6" x2="507.33" y2="765.1" stroke="#000" stroke-width="1.6" stroke-linecap="butt"/>
<line x1="530.17" y1="770.6" x2="530.17" y2="765.1" stroke="#000" stroke-width="1.6" stroke-linecap="butt"/>
<line x1="546.38" y1="770.6" x2="546.38" y2="765.1" stroke="#000" stroke-width="1.6" stroke-linecap="butt"/>
<line x1="558.95" y1="770.6" x2="558.95" y2="765.1" stroke="#000" stroke-width="1.6" stroke-linecap="butt"/>
<line x1="569.22" y1="770.6" x2="569.22" y2="765.1" stroke="#000" stroke-width="1.6" stroke-linecap="butt"/>
<line x1="577.91" y1="770.6" x2="577.91" y2="765.1" stroke="#000" stroke-width="1.6" stroke-linecap="butt"/>
<line x1="585.43" y1="770.6" x2="585.43" y2="765.1" stroke="#000" stroke-width="1.6" stroke-linecap="butt"/>
<line x1="592.06" y1="770.6" x2="592.06" y2="765.1" stroke="#000" stroke-width="1.6" stroke-linecap="butt"/>
<line x1="598" y1="770.6" x2="598" y2="761.4" stroke="#000" stroke-width="1.6" stroke-linecap="butt"/>
<line x1="79.1" y1="555.1" x2="79.1" y2="564.3" stroke="#000" stroke-width="1.6" stroke-linecap="butt"/>
<line x1="130.99" y1="555.1" x2="130.99" y2="560.6" stroke="#000" stroke-width="1.6" stroke-linecap="butt"/>
<line x1="182.88" y1="555.1" x2="182.88" y2="564.3" stroke="#000" stroke-width="1.6" stroke-linecap="butt"/>
<line x1="234.77" y1="555.1" x2="234.77" y2="560.6" stroke="#000" stroke-width="1.6" stroke-linecap="butt"/>
<line x1="286.66" y1="555.1" x2="286.66" y2="564.3" stroke="#000" stroke-width="1.6" stroke-linecap="butt"/>
<line x1="338.55" y1="555.1" x2="338.55" y2="560.6" stroke="#000" stroke-width="1.6" stroke-linecap="butt"/>
<line x1="390.44" y1="555.1" x2="390.44" y2="564.3" stroke="#000" stroke-width="1.6" stroke-linecap="butt"/>
<line x1="442.33" y1="555.1" x2="442.33" y2="560.6" stroke="#000" stroke-width="1.6" stroke-linecap="butt"/>
<line x1="494.22" y1="555.1" x2="494.22" y2="564.3" stroke="#000" stroke-width="1.6" stroke-linecap="butt"/>
<line x1="546.11" y1="555.1" x2="546.11" y2="560.6" stroke="#000" stroke-width="1.6" stroke-linecap="butt"/>
<line x1="598" y1="555.1" x2="598" y2="564.3" stroke="#000" stroke-width="1.6" stroke-linecap="butt"/>
<line x1="79.1" y1="517.3" x2="88.3" y2="517.3" stroke="#000" stroke-width="1.6" stroke-linecap="butt"/>
<line x1="598" y1="517.3" x2="588.8" y2="517.3" stroke="#000" stroke-width="1.6" stroke-linecap="butt"/>
<line x1="79.1" y1="496.75" x2="84.1" y2="496.75" stroke="#000" stroke-width="1.6" stroke-linecap="butt"/>
<line x1="598" y1="496.75" x2="593" y2="496.75" stroke="#000" stroke-width="1.6" stroke-linecap="butt"/>
<line x1="79.1" y1="476.2" x2="88.3" y2="476.2" stroke="#000" stroke-width="1.6" stroke-linecap="butt"/>
<line x1="598" y1="476.2" x2="588.8" y2="476.2" stroke="#000" stroke-width="1.6" stroke-linecap="butt"/>
<line x1="79.1" y1="455.65" x2="84.1" y2="455.65" stroke="#000" stroke-width="1.6" stroke-linecap="butt"/>
<line x1="598" y1="455.65" x2="593" y2="455.65" stroke="#000" stroke-width="1.6" stroke-linecap="butt"/>
<line x1="79.1" y1="435.1" x2="88.3" y2="435.1" stroke="#000" stroke-width="1.6" stroke-linecap="butt"/>
<line x1="598" y1="435.1" x2="588.8" y2="435.1" stroke="#000" stroke-width="1.6" stroke-linecap="butt"/>
<line x1="79.1" y1="414.55" x2="84.1" y2="414.55" stroke="#000" stroke-width="1.6" stroke-linecap="butt"/>
<line x1="598" y1="414.55" x2="593" y2="414.55" stroke="#000" stroke-width="1.6" stroke-linecap="butt"/>
<line x1="79.1" y1="394" x2="88.3" y2="394" stroke="#000" stroke-width="1.6" stroke-linecap="butt"/>
<line x1="598" y1="394" x2="588.8" y2="394" stroke="#000" stroke-width="1.6" stroke-linecap="butt"/>
<line x1="79.1" y1="373.45" x2="84.1" y2="373.45" stroke="#000" stroke-width="1.6" stroke-linecap="butt"/>
<line x1="598" y1="373.45" x2="593" y2="373.45" stroke="#000" stroke-width="1.6" stroke-linecap="butt"/>
<line x1="79.1" y1="352.9" x2="88.3" y2="352.9" stroke="#000" stroke-width="1.6" stroke-linecap="butt"/>
<line x1="598" y1="352.9" x2="588.8" y2="352.9" stroke="#000" stroke-width="1.6" stroke-linecap="butt"/>
<line x1="79.1" y1="332.35" x2="84.1" y2="332.35" stroke="#000" stroke-width="1.6" stroke-linecap="butt"/>
<line x1="598" y1="332.35" x2="593" y2="332.35" stroke="#000" stroke-width="1.6" stroke-linecap="butt"/>
<line x1="79.1" y1="311.8" x2="88.3" y2="311.8" stroke="#000" stroke-width="1.6" stroke-linecap="butt"/>
<line x1="598" y1="311.8" x2="588.8" y2="311.8" stroke="#000" stroke-width="1.6" stroke-linecap="butt"/>
<line x1="79.1" y1="770.6" x2="88.3" y2="770.6" stroke="#000" stroke-width="1.6" stroke-linecap="butt"/>
<line x1="598" y1="770.6" x2="588.8" y2="770.6" stroke="#000" stroke-width="1.6" stroke-linecap="butt"/>
<line x1="79.1" y1="745.9" x2="84.1" y2="745.9" stroke="#000" stroke-width="1.6" stroke-linecap="butt"/>
<line x1="598" y1="745.9" x2="593" y2="745.9" stroke="#000" stroke-width="1.6" stroke-linecap="butt"/>
<line x1="79.1" y1="721.2" x2="88.3" y2="721.2" stroke="#000" stroke-width="1.6" stroke-linecap="butt"/>
<line x1="598" y1="721.2" x2="588.8" y2="721.2" stroke="#000" stroke-width="1.6" stroke-linecap="butt"/>
<line x1="79.1" y1="696.5" x2="84.1" y2="696.5" stroke="#000" stroke-width="1.6" stroke-linecap="butt"/>
<line x1="598" y1="696.5" x2="593" y2="696.5" stroke="#000" stroke-width="1.6" stroke-linecap="butt"/>
<line x1="79.1" y1="671.8" x2="88.3" y2="671.8" stroke="#000" stroke-width="1.6" stroke-linecap="butt"/>
<line x1="598" y1="671.8" x2="588.8" y2="671.8" stroke="#000" stroke-width="1.6" stroke-linecap="butt"/>
<line x1="79.1" y1="647.1" x2="84.1" y2="647.1" stroke="#000" stroke-width="1.6" stroke-linecap="butt"/>
<line x1="598" y1="647.1" x2="593" y2="647.1" stroke="#000" stroke-width="1.6" stroke-linecap="butt"/>
<line x1="79.1" y1="622.4" x2="88.3" y2="622.4" stroke="#000" stroke-width="1.6" stroke-linecap="butt"/>
<line x1="598" y1="622.4" x2="588.8" y2="622.4" stroke="#000" stroke-width="1.6" stroke-linecap="butt"/>
<line x1="79.1" y1="597.7" x2="84.1" y2="597.7" stroke="#000" stroke-width="1.6" stroke-linecap="butt"/>
<line x1="598" y1="597.7" x2="593" y2="597.7" stroke="#000" stroke-width="1.6" stroke-linecap="butt"/>
<line x1="79.1" y1="573" x2="88.3" y2="573" stroke="#000" stroke-width="1.6" stroke-linecap="butt"/>
<line x1="598" y1="573" x2="588.8" y2="573" stroke="#000" stroke-width="1.6" stroke-linecap="butt"/>
<text x="70.2" y="522.6" font-size="18.6" text-anchor="end" font-family="Liberation Sans, sans-serif" >0.0</text>
<text x="70.2" y="481.5" font-size="18.6" text-anchor="end" font-family="Liberation Sans, sans-serif" >0.2</text>
<text x="70.2" y="440.4" font-size="18.6" text-anchor="end" font-family="Liberation Sans, sans-serif" >0.4</text>
<text x="70.2" y="399.3" font-size="18.6" text-anchor="end" font-family="Liberation Sans, sans-serif" >0.6</text>
<text x="70.2" y="358.2" font-size="18.6" text-anchor="end" font-family="Liberation Sans, sans-serif" >0.8</text>
<path transform="translate(44.35,317.1) scale(0.00908,-0.00908)" d="M763 0H583V1147Q518 1085 412.5 1023T223 930V1104Q374 1175 487 1276T647 1472H763Z" fill="#000" stroke="#000" stroke-width="33.03"/>
<text x="70.2" y="317.1" font-size="18.6" text-anchor="end" font-family="Liberation Sans, sans-serif" >.0</text>
<text x="70.2" y="775.2" font-size="16.5" text-anchor="end" font-family="Liberation Sans, sans-serif" >0.0</text>
<text x="70.2" y="725.8" font-size="16.5" text-anchor="end" font-family="Liberation Sans, sans-serif" >0.2</text>
<text x="70.2" y="676.4" font-size="16.5" text-anchor="end" font-family="Liberation Sans, sans-serif" >0.4</text>
<text x="70.2" y="627" font-size="16.5" text-anchor="end" font-family="Liberation Sans, sans-serif" >0.6</text>
<text x="70.2" y="577.6" font-size="16.5" text-anchor="end" font-family="Liberation Sans, sans-serif" >0.8</text>
<path transform="translate(64.7,546.6) scale(0.01025,-0.01025)" d="M763 0H583V1147Q518 1085 412.5 1023T223 930V1104Q374 1175 487 1276T647 1472H763Z" fill="#000" stroke="#000" stroke-width="29.26"/>
<text x="76.38" y="546.6" font-size="21" text-anchor="start" font-family="Liberation Sans, sans-serif" >0</text>
<text x="88.05" y="536" font-size="12.5" text-anchor="start" font-family="Liberation Sans, sans-serif" >0</text>
<path transform="translate(194.12,546.6) scale(0.01025,-0.01025)" d="M763 0H583V1147Q518 1085 412.5 1023T223 930V1104Q374 1175 487 1276T647 1472H763Z" fill="#000" stroke="#000" stroke-width="29.26"/>
<text x="205.8" y="546.6" font-size="21" text-anchor="start" font-family="Liberation Sans, sans-serif" >0</text>
<path transform="translate(217.48,536) scale(0.00610,-0.00610)" d="M763 0H583V1147Q518 1085 412.5 1023T223 930V1104Q374 1175 487 1276T647 1472H763Z" fill="#000" stroke="#000" stroke-width="40.96"/>
<path transform="translate(323.55,546.6) scale(0.01025,-0.01025)" d="M763 0H583V1147Q518 1085 412.5 1023T223 930V1104Q374 1175 487 1276T647 1472H763Z" fill="#000" stroke="#000" stroke-width="29.26"/>
<text x="335.23" y="546.6" font-size="21" text-anchor="start" font-family="Liberation Sans, sans-serif" >0</text>
<text x="346.9" y="536" font-size="12.5" text-anchor="start" font-family="Liberation Sans, sans-serif" >2</text>
<path transform="translate(452.47,546.6) scale(0.01025,-0.01025)" d="M763 0H583V1147Q518 1085 412.5 1023T223 930V1104Q374 1175 487 1276T647 1472H763Z" fill="#000" stroke="#000" stroke-width="29.26"/>
<text x="464.15" y="546.6" font-size="21" text-anchor="start" font-family="Liberation Sans, sans-serif" >0</text>
<text x="475.83" y="536" font-size="12.5" text-anchor="start" font-family="Liberation Sans, sans-serif" >3</text>
<path transform="translate(581.7,546.6) scale(0.01025,-0.01025)" d="M763 0H583V1147Q518 1085 412.5 1023T223 930V1104Q374 1175 487 1276T647 1472H763Z" fill="#000" stroke="#000" stroke-width="29.26"/>
<text x="593.38" y="546.6" font-size="21" text-anchor="start" font-family="Liberation Sans, sans-serif" >0</text>
<text x="605.05" y="536" font-size="12.5" text-anchor="start" font-family="Liberation Sans, sans-serif" >4</text>
<path transform="translate(64.7,800) scale(0.01025,-0.01025)" d="M763 0H583V1147Q518 1085 412.5 1023T223 930V1104Q374 1175 487 1276T647 1472H763Z" fill="#000" stroke="#000" stroke-width="29.26"/>
<text x="76.38" y="800" font-size="21" text-anchor="start" font-family="Liberation Sans, sans-serif" >0</text>
<text x="88.05" y="789.4" font-size="12.5" text-anchor="start" font-family="Liberation Sans, sans-serif" >0</text>
<path transform="translate(194.12,800) scale(0.01025,-0.01025)" d="M763 0H583V1147Q518 1085 412.5 1023T223 930V1104Q374 1175 487 1276T647 1472H763Z" fill="#000" stroke="#000" stroke-width="29.26"/>
<text x="205.8" y="800" font-size="21" text-anchor="start" font-family="Liberation Sans, sans-serif" >0</text>
<path transform="translate(217.48,789.4) scale(0.00610,-0.00610)" d="M763 0H583V1147Q518 1085 412.5 1023T223 930V1104Q374 1175 487 1276T647 1472H763Z" fill="#000" stroke="#000" stroke-width="40.96"/>
<path transform="translate(323.55,800) scale(0.01025,-0.01025)" d="M763 0H583V1147Q518 1085 412.5 1023T223 930V1104Q374 1175 487 1276T647 1472H763Z" fill="#000" stroke="#000" stroke-width="29.26"/>
<text x="335.23" y="800" font-size="21" text-anchor="start" font-family="Liberation Sans, sans-serif" >0</text>
<text x="346.9" y="789.4" font-size="12.5" text-anchor="start" font-family="Liberation Sans, sans-serif" >2</text>
<path transform="translate(452.47,800) scale(0.01025,-0.01025)" d="M763 0H583V1147Q518 1085 412.5 1023T223 930V1104Q374 1175 487 1276T647 1472H763Z" fill="#000" stroke="#000" stroke-width="29.26"/>
<text x="464.15" y="800" font-size="21" text-anchor="start" font-family="Liberation Sans, sans-serif" >0</text>
<text x="475.83" y="789.4" font-size="12.5" text-anchor="start" font-family="Liberation Sans, sans-serif" >3</text>
<path transform="translate(581.7,800) scale(0.01025,-0.01025)" d="M763 0H583V1147Q518 1085 412.5 1023T223 930V1104Q374 1175 487 1276T647 1472H763Z" fill="#000" stroke="#000" stroke-width="29.26"/>
<text x="593.38" y="800" font-size="21" text-anchor="start" font-family="Liberation Sans, sans-serif" >0</text>
<text x="605.05" y="789.4" font-size="12.5" text-anchor="start" font-family="Liberation Sans, sans-serif" >4</text>
<g transform="translate(21.3,522.3) rotate(-90)"><text x="0" y="0" font-size="19.5" font-family="Liberation Serif, serif" stroke-width="0.15">ρ</text><text x="10.0" y="7.7" font-size="13" font-family="Liberation Sans, sans-serif">c</text><text x="20.9" y="0" font-size="20.6" font-family="Liberation Sans, sans-serif">of high-degree nodes</text></g>
<g transform="translate(24.2,771.7) rotate(-90)"><text x="0" y="0" font-size="19.5" font-family="Liberation Serif, serif" stroke-width="0.15">ρ</text><text x="10.0" y="7.7" font-size="13" font-family="Liberation Sans, sans-serif">c</text><text x="20.9" y="0" font-size="20.6" font-family="Liberation Sans, sans-serif">of low-degree nodes</text></g>
<text x="333.2" y="835.7" font-size="38.8" font-style="italic" stroke="#000" stroke-width="0.5" font-family="Liberation Serif, serif">t</text>
<line x1="418.6" y1="390.3" x2="475.6" y2="390.3" stroke="#000" stroke-width="3.1" stroke-linecap="butt"/>
<line x1="420.05" y1="420.6" x2="432.85" y2="420.6" stroke="#ff0000" stroke-width="3.1" stroke-linecap="round"/>
<line x1="449.25" y1="420.6" x2="462.45" y2="420.6" stroke="#ff0000" stroke-width="3.1" stroke-linecap="round"/>
<line x1="419.3" y1="450.7" x2="420.9" y2="450.7" stroke="#0000ff" stroke-width="3.2" stroke-linecap="round"/>
<line x1="437.2" y1="450.7" x2="438.8" y2="450.7" stroke="#0000ff" stroke-width="3.2" stroke-linecap="round"/>
<line x1="455.1" y1="450.7" x2="456.7" y2="450.7" stroke="#0000ff" stroke-width="3.2" stroke-linecap="round"/>
<line x1="473" y1="450.7" x2="474.6" y2="450.7" stroke="#0000ff" stroke-width="3.2" stroke-linecap="round"/>
<text transform="translate(481,398.5) scale(1.2,1)" font-size="21.6" stroke-width="0.1" font-family="Liberation Serif, serif">α</text>
<rect x="502.6" y="386.05" width="11.5" height="2.2" fill="#000"/>
<rect x="502.6" y="391.35" width="11.5" height="2.25" fill="#000"/>
<rect x="523.6" y="391.05" width="6.2" height="2.15" fill="#000"/>
<path transform="translate(529.9,398.5) scale(0.01187,-0.01187)" d="M763 0H583V1147Q518 1085 412.5 1023T223 930V1104Q374 1175 487 1276T647 1472H763Z" fill="#000" stroke="#000" stroke-width="25.28"/>
<text transform="translate(481,428.8) scale(1.2,1)" font-size="21.6" stroke-width="0.1" font-family="Liberation Serif, serif">α</text>
<rect x="502.6" y="416.35" width="11.5" height="2.2" fill="#000"/>
<rect x="502.6" y="421.65" width="11.5" height="2.25" fill="#000"/>
<text x="522.3" y="428.8" font-size="24.3" font-family="Liberation Sans, sans-serif">0.5</text>
<text transform="translate(481,458.9) scale(1.2,1)" font-size="21.6" stroke-width="0.1" font-family="Liberation Serif, serif">α</text>
<rect x="502.6" y="446.45" width="11.5" height="2.2" fill="#000"/>
<rect x="502.6" y="451.75" width="11.5" height="2.25" fill="#000"/>
<text x="522.3" y="458.9" font-size="24.3" font-family="Liberation Sans, sans-serif">4</text>
<line x1="127" y1="596.2" x2="184" y2="596.2" stroke="#000" stroke-width="3.1" stroke-linecap="butt"/>
<line x1="128.45" y1="626.5" x2="141.25" y2="626.5" stroke="#ff0000" stroke-width="3.1" stroke-linecap="round"/>
<line x1="157.65" y1="626.5" x2="170.85" y2="626.5" stroke="#ff0000" stroke-width="3.1" stroke-linecap="round"/>
<line x1="127.7" y1="656.6" x2="129.3" y2="656.6" stroke="#0000ff" stroke-width="3.2" stroke-linecap="round"/>
<line x1="145.6" y1="656.6" x2="147.2" y2="656.6" stroke="#0000ff" stroke-width="3.2" stroke-linecap="round"/>
<line x1="163.5" y1="656.6" x2="165.1" y2="656.6" stroke="#0000ff" stroke-width="3.2" stroke-linecap="round"/>
<line x1="181.4" y1="656.6" x2="183" y2="656.6" stroke="#0000ff" stroke-width="3.2" stroke-linecap="round"/>
<text transform="translate(189.4,604.4) scale(1.2,1)" font-size="21.6" stroke-width="0.1" font-family="Liberation Serif, serif">α</text>
<rect x="211" y="591.95" width="11.5" height="2.2" fill="#000"/>
<rect x="211" y="597.25" width="11.5" height="2.25" fill="#000"/>
<rect x="232" y="596.95" width="6.2" height="2.15" fill="#000"/>
<path transform="translate(238.3,604.4) scale(0.01187,-0.01187)" d="M763 0H583V1147Q518 1085 412.5 1023T223 930V1104Q374 1175 487 1276T647 1472H763Z" fill="#000" stroke="#000" stroke-width="25.28"/>
<text transform="translate(189.4,634.7) scale(1.2,1)" font-size="21.6" stroke-width="0.1" font-family="Liberation Serif, serif">α</text>
<rect x="211" y="622.25" width="11.5" height="2.2" fill="#000"/>
<rect x="211" y="627.55" width="11.5" height="2.25" fill="#000"/>
<text x="230.7" y="634.7" font-size="24.3" font-family="Liberation Sans, sans-serif">0.5</text>
<text transform="translate(189.4,664.8) scale(1.2,1)" font-size="21.6" stroke-width="0.1" font-family="Liberation Serif, serif">α</text>
<rect x="211" y="652.35" width="11.5" height="2.2" fill="#000"/>
<rect x="211" y="657.65" width="11.5" height="2.25" fill="#000"/>
<text x="230.7" y="664.8" font-size="24.3" font-family="Liberation Sans, sans-serif">4</text>
</svg>
</body></html>
